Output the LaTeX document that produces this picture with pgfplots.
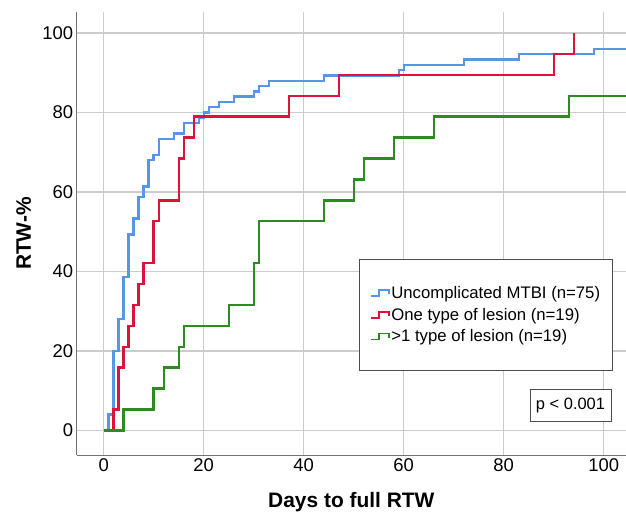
\documentclass[border=0pt]{standalone}
\usepackage{fontspec}
\setmainfont{Liberation Sans}
\usepackage{pgfplots}
\pgfplotsset{compat=1.18}

\definecolor{kmblue}{RGB}{86,150,228}
\definecolor{kmred}{RGB}{220,20,60}
\definecolor{kmgreen}{RGB}{46,139,34}

% Kaplan-Meier estimates, RTW-% by day
\pgfplotstableread{
day pct
0   0
1   4
2   20
3   28
4   38.67
5   49.33
6   53.33
7   58.67
8   61.33
9   68
10  69.33
11  73.33
14  74.67
16  77.33
19  78.67
20  80
21  81.33
23  82.67
26  84
30  85.33
31  86.67
33  88
44  89.33
59  90.67
60  92
72  93.33
83  94.67
98  96
104.5 96
}\uncomplicated

\pgfplotstableread{
day pct
0   0
2   5.26
3   15.79
4   21.05
5   26.32
6   31.58
7   36.84
8   42.11
10  52.63
11  57.89
15  68.42
16  73.68
18  78.95
37  84.21
47  89.47
90  94.74
94  100
}\onelesion

\pgfplotstableread{
day pct
0   0
4   5.26
10  10.53
12  15.79
15  21.05
16  26.32
25  31.58
30  42.11
31  52.63
44  57.89
50  63.16
52  68.42
58  73.68
66  78.95
93  84.21
104.5 84.21
}\morelesion

\begin{document}
\begin{tikzpicture}
\path[use as bounding box] (-76.7bp,-59bp) rectangle (549.3bp,455bp);
\begin{axis}[
    scale only axis,
    width=549.3bp, height=443bp,
    xmin=-5.4, xmax=104.46,
    ymin=-6.2, ymax=105.3,
    xtick={0,20,...,100},
    ytick={0,20,...,100},
    axis lines*=left,
    axis line style={-, draw=black!55, line width=1bp},
    major tick length=0pt,
    grid=major,
    grid style={draw=black!20, line width=1.2bp},
    /pgf/number format/assume math mode=true,
    ticklabel style={font=\fontsize{18.5}{20}\selectfont},
    xlabel={Days to full RTW},
    ylabel={RTW-\%},
    label style={font=\fontsize{21}{24}\bfseries},
    xlabel style={at={(axis description cs:0.5,-0.1196)}, anchor=base},
    ylabel style={at={(axis description cs:-0.0832,0.5)}, anchor=base},
    legend image code/.code={
        \draw[#1, line width=1.8bp] (0bp,-3bp) -- (8bp,-3bp) -- (8bp,3bp)
            -- (18bp,3bp) -- (18bp,-1bp);},
    legend cell align=left,
    legend style={at={(axis description cs:0.514,0.4424)}, anchor=north west,
        draw=black!70, line width=0.9bp, fill=white,
        font=\fontsize{16.8}{19}\selectfont,
        inner xsep=10.5bp, inner ysep=25.5bp,
        row sep=5bp,
        nodes={inner sep=1.5bp},
        /tikz/every even column/.append style={column sep=0bp}},
]
\addplot[const plot, kmblue, line width=2.4bp] table[x=day, y=pct] {\uncomplicated};
\addplot[const plot, kmred, line width=2.4bp] table[x=day, y=pct] {\onelesion};
\addplot[const plot, kmgreen, line width=2.4bp] table[x=day, y=pct] {\morelesion};
\legend{Uncomplicated MTBI (n=75), One type of lesion (n=19), >1 type of lesion (n=19)}
\node[draw=black!70, line width=0.9bp, fill=white, minimum width=81bp,
      minimum height=32bp, inner sep=0pt, font=\fontsize{16.5}{18}\selectfont]
      at (axis cs:93.36,6.29) {p < 0.001};
\end{axis}
\end{tikzpicture}
\end{document}
